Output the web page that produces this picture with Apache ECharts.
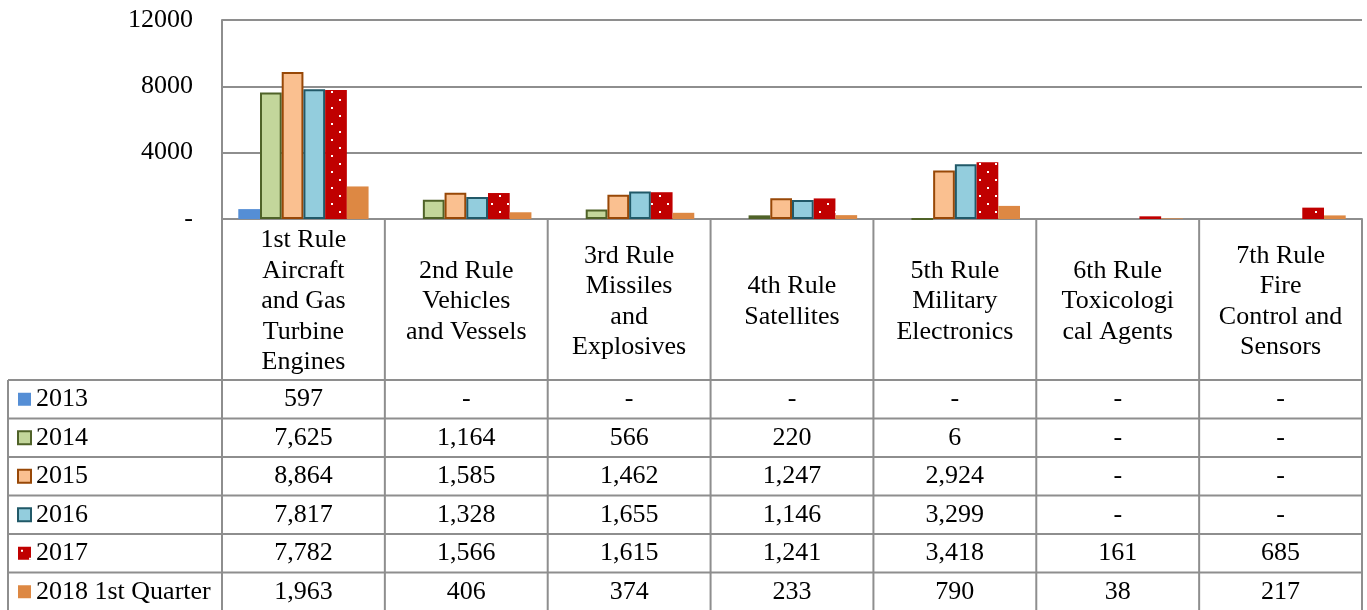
<!DOCTYPE html>
<html><head><meta charset="utf-8">
<script src="https://cdn.jsdelivr.net/npm/echarts@6/dist/echarts.min.js"></script>
<style>html,body{margin:0;padding:0;background:#fff}#c{width:1367px;height:610px}</style>
</head><body><div id="c"></div>
<script>
// ---- data ----
const categories = [
  "1st Rule\nAircraft\nand Gas\nTurbine\nEngines",
  "2nd Rule\nVehicles\nand Vessels",
  "3rd Rule\nMissiles\nand\nExplosives",
  "4th Rule\nSatellites",
  "5th Rule\nMilitary\nElectronics",
  "6th Rule\nToxicologi\ncal Agents",
  "7th Rule\nFire\nControl and\nSensors"
];
const years = ["2013", "2014", "2015", "2016", "2017", "2018 1st Quarter"];
const v2013 = [597, null, null, null, null, null, null];
const v2014 = [7625, 1164, 566, 220, 6, null, null];
const v2015 = [8864, 1585, 1462, 1247, 2924, null, null];
const v2016 = [7817, 1328, 1655, 1146, 3299, null, null];
const v2017 = [7782, 1566, 1615, 1241, 3418, 161, 685];
const v2018q1 = [1963, 406, 374, 233, 790, 38, 217];
const values = [v2013, v2014, v2015, v2016, v2017, v2018q1];
const yMin = 0, yMax = 12000, yStep = 4000;

// ---- styles ----
const FONT = '"Liberation Serif","Times New Roman",serif';
const FS = 26;
const LINE = '#8E8E8E';
function dots() {
  const c = document.createElement('canvas');
  c.width = 16; c.height = 16;
  const g = c.getContext('2d');
  g.fillStyle = '#C00000'; g.fillRect(0, 0, 16, 16);
  g.fillStyle = '#FFFFFF';
  g.fillRect(3, 3, 2, 2); g.fillRect(11, 11, 2, 2);
  return c;
}
const itemStyles = [
  { color: '#558ED5' },
  { color: '#C3D69B', borderColor: '#4F6228', borderWidth: 2 },
  { color: '#FAC090', borderColor: '#984807', borderWidth: 2 },
  { color: '#93CDDD', borderColor: '#215968', borderWidth: 2 },
  { color: { image: dots(), repeat: 'repeat' } },
  { color: '#DD8843' }
];

const GRID_LEFT = 222, GRID_RIGHT = 5, GRID_TOP = 20, GRID_BOTTOM = 391;
const HEADER_BOTTOM = 380, ROW_H = 38.5, TABLE_LEFT = 8;

const chart = echarts.init(document.getElementById('c'), null, { renderer: 'canvas' });
chart.setOption({
  animation: false,
  backgroundColor: '#fff',
  textStyle: { fontFamily: FONT },
  grid: { left: GRID_LEFT, right: GRID_RIGHT, top: GRID_TOP, bottom: GRID_BOTTOM, containLabel: false },
  legend: {
    data: years, orient: 'vertical', left: 17, top: HEADER_BOTTOM, height: 300, itemGap: 0, padding: 0,
    itemWidth: 13, itemHeight: 13, icon: 'rect', selectedMode: false,
    textStyle: { fontFamily: FONT, fontSize: FS, color: '#000', lineHeight: ROW_H }
  },
  xAxis: {
    type: 'category', data: categories,
    axisLine: { show: true, lineStyle: { color: LINE, width: 2 } },
    axisTick: { show: false },
    axisLabel: {
      interval: 0, fontFamily: FONT, fontSize: FS, color: '#000', lineHeight: 30.5,
      verticalAlign: 'middle', align: 'center', margin: 82.5
    }
  },
  yAxis: {
    type: 'value', min: yMin, max: yMax, interval: yStep,
    axisLine: { show: true, lineStyle: { color: LINE, width: 2 } },
    axisTick: { show: false },
    splitLine: { show: true, lineStyle: { color: LINE, width: 2 } },
    axisLabel: {
      fontFamily: FONT, fontSize: FS, color: '#000', margin: 29,
      padding: [3, 0, 0, 0],
      formatter: v => v === 0 ? '-' : String(v)
    }
  },
  series: years.map((y, i) => ({
    type: 'bar', name: y, data: values[i], itemStyle: itemStyles[i],
    barGap: '0%', barCategoryGap: '20%'
  }))
});

// ---- data table drawn from the axis scale ----
function fmt(v) { return v == null ? '-' : v.toLocaleString('en-US'); }
const cx = categories.map((c, i) => chart.convertToPixel({ xAxisIndex: 0 }, i));
const band = cx[1] - cx[0];
const xL = cx[0] - band / 2, xR = cx[cx.length - 1] + band / 2;
const y0 = chart.convertToPixel({ yAxisIndex: 0 }, 0);
const yTop = chart.convertToPixel({ yAxisIndex: 0 }, yMax);
const tableBottom = HEADER_BOTTOM + ROW_H * years.length;
const els = [];
function line(x1, y1, x2, y2) {
  els.push({ type: 'line', silent: true, z: 10, shape: { x1, y1, x2, y2 }, style: { stroke: LINE, lineWidth: 2 } });
}
for (let r = 0; r <= years.length; r++) {
  const y = HEADER_BOTTOM + r * ROW_H;
  line(TABLE_LEFT, y, xR, y);
}
line(TABLE_LEFT, HEADER_BOTTOM, TABLE_LEFT, tableBottom);
line(xL, yTop, xL, tableBottom);
for (let i = 0; i < categories.length; i++) {
  const xb = cx[i] + band / 2;
  line(xb, y0, xb, tableBottom);
}
values.forEach((row, r) => {
  row.forEach((v, i) => {
    els.push({
      type: 'text', silent: true, z: 10,
      x: cx[i], y: HEADER_BOTTOM + r * ROW_H + ROW_H / 2,
      style: { text: fmt(v), fill: '#000', font: FS + 'px ' + FONT, textAlign: 'center', textVerticalAlign: 'middle' }
    });
  });
});
chart.setOption({ graphic: { elements: els } });
</script>
</body></html>
